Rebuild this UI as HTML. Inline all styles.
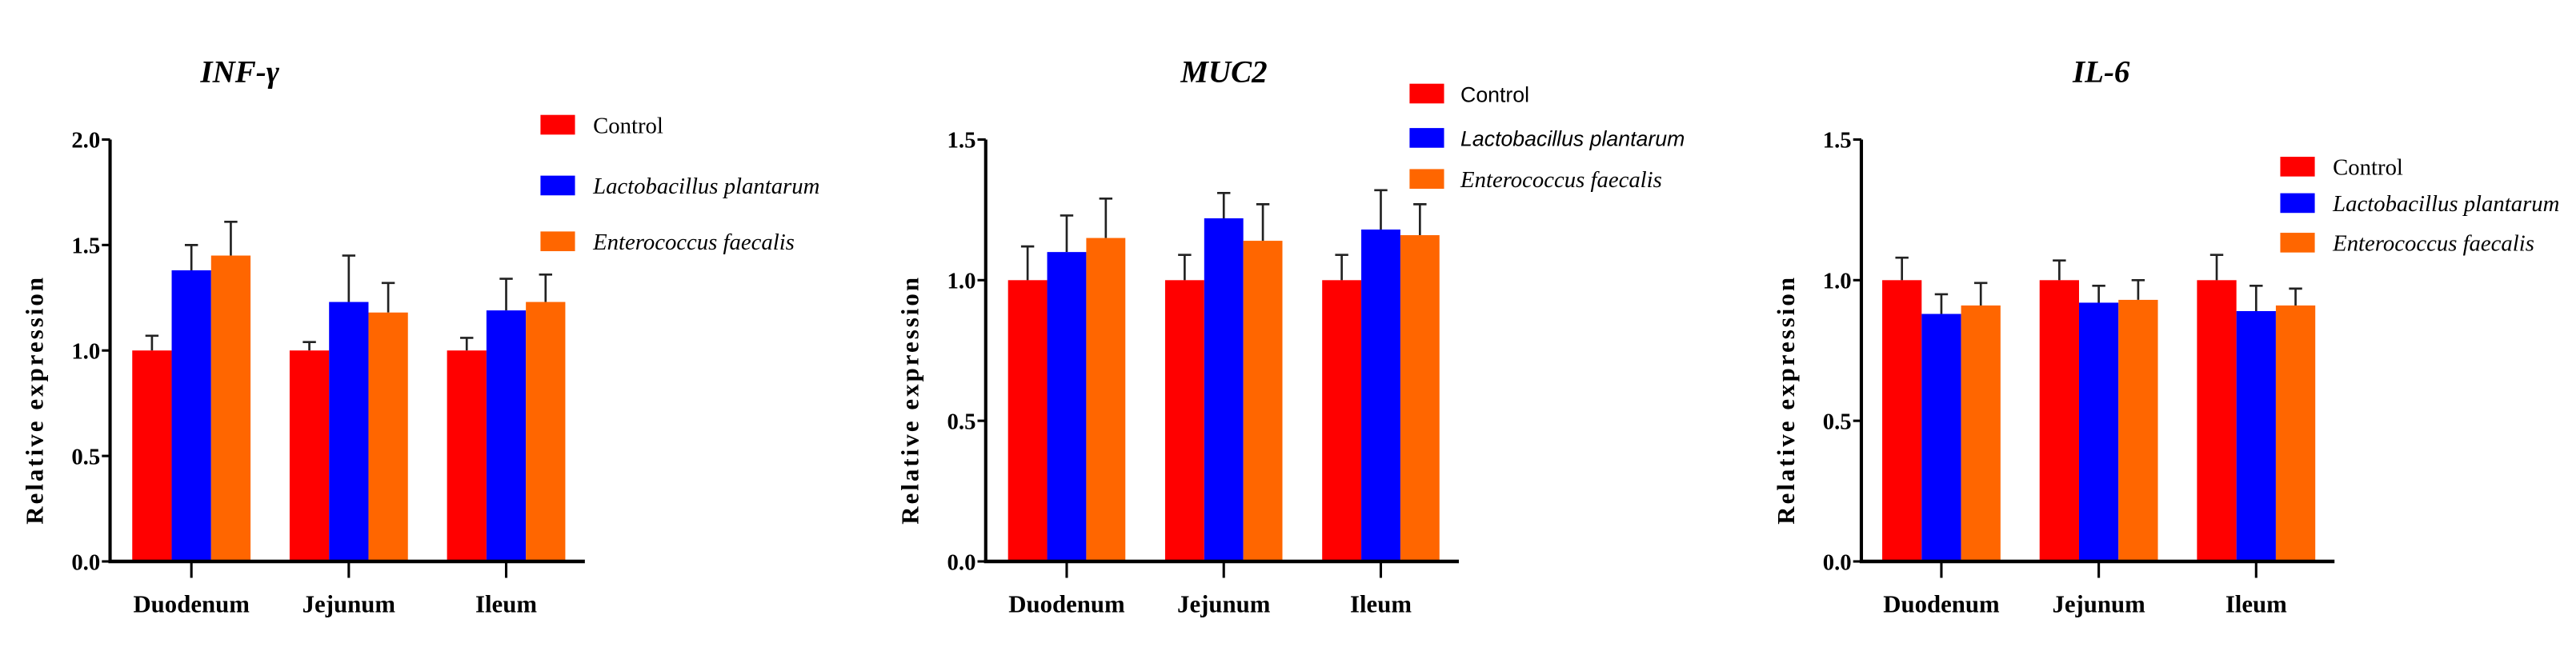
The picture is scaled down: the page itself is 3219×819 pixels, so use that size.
<!DOCTYPE html>
<html><head><meta charset="utf-8"><style>
html,body{margin:0;padding:0;background:#fff;}
svg{display:block;}
text{font-family:"Liberation Serif",serif;}
</style></head><body>
<svg id="s" width="3219" height="819" viewBox="0 0 1568 399" preserveAspectRatio="none"></svg>
<script>
const categories = ["Duodenum","Jejunum","Ileum"];
const seriesNames = ["Control","Lactobacillus plantarum","Enterococcus faecalis"];
const seriesColors = ["#ff0000","#0000ff","#ff6600"];
const infMeans = [[1.0,1.0,1.0],[1.38,1.23,1.19],[1.45,1.18,1.23]];
const infTops = [[1.07,1.04,1.06],[1.50,1.45,1.34],[1.61,1.32,1.36]];
const mucMeans = [[1.0,1.0,1.0],[1.10,1.22,1.18],[1.15,1.14,1.16]];
const mucTops = [[1.12,1.09,1.09],[1.23,1.31,1.32],[1.29,1.27,1.27]];
const il6Means = [[1.0,1.0,1.0],[0.88,0.92,0.89],[0.91,0.93,0.91]];
const il6Tops = [[1.08,1.07,1.09],[0.95,0.98,0.98],[0.99,1.00,0.97]];
const infTicks = ["0.0","0.5","1.0","1.5","2.0"];
const mucTicks = ["0.0","0.5","1.0","1.5"];
const il6Ticks = ["0.0","0.5","1.0","1.5"];

const NS="http://www.w3.org/2000/svg";
const svg=document.getElementById('s');
function mk(tag,attrs,parent){const e=document.createElementNS(NS,tag);for(const k in attrs)e.setAttribute(k,attrs[k]);(parent||svg).appendChild(e);return e;}

const panels=[
 {key:"inf",title:"INF-γ",means:infMeans,tops:infTops,ticks:infTicks,max:2.0,ax:67,axEnd:356,firstBar:80.5,groupStep:95.8,bw:24,
  legX:329,legTextX:361,legY:[76,113,147],legSans:false,titleX:146},
 {key:"muc",title:"MUC2",means:mucMeans,tops:mucTops,ticks:mucTicks,max:1.5,ax:600,axEnd:888,firstBar:613.6,groupStep:95.6,bw:23.8,
  legX:858,legTextX:889,legY:[57,84,109],legSans:true,titleX:745},
 {key:"il6",title:"IL-6",means:il6Means,tops:il6Tops,ticks:il6Ticks,max:1.5,ax:1133,axEnd:1421,firstBar:1145.7,groupStep:95.8,bw:24,
  legX:1388,legTextX:1420,legY:[101.5,123.7,147.8],legSans:false,titleX:1279}
];
const yTop=85, yBot=342;
panels.forEach(p=>{
  const g=mk('g',{});
  
  
  const y=v=>yBot-(v/p.max)*(yBot-yTop);
  const t=mk('text',{x:p.titleX,y:50,'text-anchor':'middle','font-size':19,'font-weight':'bold','font-style':'italic'},g);
  t.textContent=p.title;
  
  
  // bars
  categories.forEach((c,ci)=>{
    seriesNames.forEach((s,si)=>{
      const x=p.firstBar+ci*p.groupStep+si*p.bw;
      const v=p.means[si][ci], top=p.tops[si][ci];
      const cx=x+p.bw/2;
      const eb=mk('path',{d:`M${cx} ${y(v)} V${y(top)} M${cx-4} ${y(top)} H${cx+4}`,stroke:'#222','stroke-width':1.3,fill:'none'},g);
      
      
      const r=mk('rect',{x:x,y:y(v),width:p.bw,height:yBot-y(v),fill:seriesColors[si]},g);
      
      
    });
    const tx=p.firstBar+ci*p.groupStep+1.5*p.bw;
    mk('line',{x1:tx,x2:tx,y1:yBot,y2:yBot+10,stroke:'#000','stroke-width':1.5},g);
    const cl=mk('text',{x:tx,y:373,'text-anchor':'middle','font-size':15,'font-weight':'bold'},g);
    cl.textContent=c;
    
    
  });
  // axes
  const ya=mk('line',{x1:p.ax,x2:p.ax,y1:yTop,y2:yBot+1,stroke:'#000','stroke-width':2},g);
  
  
  const xa=mk('line',{x1:p.ax-1,x2:p.axEnd,y1:yBot,y2:yBot,stroke:'#000','stroke-width':2.2},g);
  
  
  p.ticks.forEach(tk=>{
    const yy=y(parseFloat(tk));
    mk('line',{x1:p.ax-5,x2:p.ax,y1:yy,y2:yy,stroke:'#000','stroke-width':1.5},g);
    const tl=mk('text',{x:p.ax-6,y:yy+5,'text-anchor':'end','font-size':14,'font-weight':'bold'},g);
    tl.textContent=tk;
    
    
  });
  const yl=mk('text',{x:0,y:0,transform:`translate(${p.ax-41},${(yTop+yBot)/2+30}) rotate(-90)`,'text-anchor':'middle','font-size':15,'font-weight':'bold','letter-spacing':1.5},g);
  yl.textContent='Relative expression';
  
  
  // legend
  seriesNames.forEach((s,si)=>{
    const ly=p.legY[si];
    const lg=mk('g',{},g);
    
    
    mk('rect',{x:p.legX,y:ly-6,width:21,height:12,fill:seriesColors[si]},lg);
    const lt=mk('text',{x:p.legTextX,y:ly+5,'font-size':p.legSans?14:14,'font-style':si===0?'normal':'italic'},lg);
    if(p.legSans&&si<2) lt.setAttribute('style','font-family:"Liberation Sans",sans-serif;font-size:13px');
    lt.textContent=s;
  });
});
</script>
</body></html>
